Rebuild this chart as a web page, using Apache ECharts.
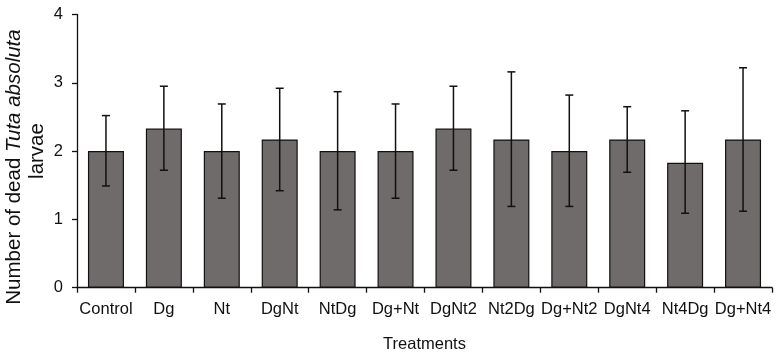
<!DOCTYPE html>
<html>
<head>
<meta charset="utf-8">
<script src="https://cdn.jsdelivr.net/npm/echarts@6/dist/echarts.min.js"></script>
<style>
  html, body { margin: 0; padding: 0; background: #fff; }
  #chart { width: 781px; height: 361px; }
</style>
</head>
<body>
<div id="chart"></div>
<script>
const categories = ['Control', 'Dg', 'Nt', 'DgNt', 'NtDg', 'Dg+Nt', 'DgNt2', 'Nt2Dg', 'Dg+Nt2', 'DgNt4', 'Nt4Dg', 'Dg+Nt4'];
const means = [2.0, 2.33, 2.0, 2.17, 2.0, 2.0, 2.33, 2.17, 2.0, 2.17, 1.83, 2.17];
const errHigh = [2.52, 2.95, 2.69, 2.92, 2.87, 2.69, 2.95, 3.16, 2.82, 2.65, 2.59, 3.22];
const errLow = [1.49, 1.72, 1.31, 1.42, 1.14, 1.31, 1.72, 1.19, 1.19, 1.69, 1.09, 1.12];
const yTicks = [0, 1, 2, 3, 4];

const FONT = "'Liberation Sans', Arial, sans-serif";

const chart = echarts.init(document.getElementById('chart'), null, { renderer: 'canvas' });

const errData = categories.map((c, i) => [i, errLow[i], errHigh[i]]);

chart.setOption({
  animation: false,
  backgroundColor: '#fff',
  grid: { left: 77, right: 9, top: 14.5, bottom: 73.3, containLabel: false, outerBoundsMode: 'none' },
  // y title drawn as rotated text so its position is fixed
  graphic: [{
    type: 'text',
    x: 25.5,
    y: 151,
    rotation: Math.PI / 2,
    style: {
      text: '{n|Number of dead }{i|Tuta absoluta}\n{n|larvae}',
      align: 'center',
      verticalAlign: 'middle',
      fill: '#111',
      rich: {
        n: { fontFamily: FONT, fontSize: 20.5, fill: '#111', lineHeight: 23 },
        i: { fontFamily: FONT, fontSize: 20.5, fontStyle: 'italic', fill: '#111', lineHeight: 23, padding: [0, 32, 0, 0] }
      }
    }
  }],
  xAxis: {
    type: 'category',
    data: categories,
    boundaryGap: true,
    axisLine: { lineStyle: { color: '#111', width: 1.3 } },
    axisTick: { show: true, length: 5, alignWithLabel: false, lineStyle: { color: '#111', width: 1.3 } },
    axisLabel: { color: '#111', fontFamily: FONT, fontSize: 16.5, margin: 13, interval: 0 },
    name: 'Treatments',
    nameLocation: 'middle',
    nameGap: 48,
    nameMoveOverlap: false,
    nameTextStyle: { color: '#111', fontFamily: FONT, fontSize: 16.5 }
  },
  yAxis: {
    type: 'value',
    min: yTicks[0],
    max: yTicks[yTicks.length - 1],
    interval: 1,
    splitLine: { show: false },
    axisLine: { show: true, lineStyle: { color: '#111', width: 1.3 } },
    axisTick: { show: true, length: 5, lineStyle: { color: '#111', width: 1.3 } },
    axisLabel: { color: '#111', fontFamily: FONT, fontSize: 16.5, margin: 14 }
  },
  series: [
    {
      type: 'bar',
      data: means,
      barWidth: 36,
      itemStyle: { color: '#6f6b6a', borderColor: '#111', borderWidth: 1.2 }
    },
    {
      type: 'custom',
      data: errData,
      z: 10,
      renderItem: function (params, api) {
        const x = api.value(0);
        const lo = api.coord([x, api.value(1)]);
        const hi = api.coord([x, api.value(2)]);
        const hw = 4;
        const style = { stroke: '#111', lineWidth: 1.5 };
        return {
          type: 'group',
          children: [
            { type: 'line', shape: { x1: lo[0], y1: lo[1], x2: hi[0], y2: hi[1] }, style: style },
            { type: 'line', shape: { x1: lo[0] - hw, y1: lo[1], x2: lo[0] + hw, y2: lo[1] }, style: style },
            { type: 'line', shape: { x1: hi[0] - hw, y1: hi[1], x2: hi[0] + hw, y2: hi[1] }, style: style }
          ]
        };
      }
    }
  ]
});
</script>
</body>
</html>
